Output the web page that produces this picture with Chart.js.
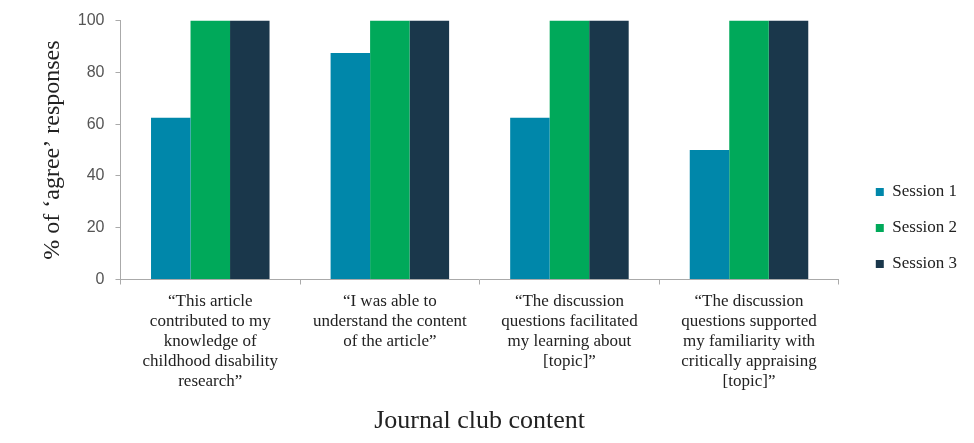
<!DOCTYPE html>
<html>
<head>
<meta charset="utf-8">
<script src="https://cdn.jsdelivr.net/npm/chart.js@4"></script>
<style>
  html, body { margin: 0; padding: 0; background: #fff; }
  #wrap { width: 974px; height: 443px; }
</style>
</head>
<body>
<div id="wrap"><canvas id="agreeChart"></canvas></div>
<script>
// survey statements (x categories)
const statements = [
    ['\u201cThis article', 'contributed to my', 'knowledge of', 'childhood disability', 'research\u201d'],
    ['\u201cI was able to', 'understand the content', 'of the article\u201d'],
    ['\u201cThe discussion', 'questions facilitated', 'my learning about', '[topic]\u201d'],
    ['\u201cThe discussion', 'questions supported', 'my familiarity with', 'critically appraising', '[topic]\u201d']
];
const sessionNames = ['Session 1', 'Session 2', 'Session 3'];
const session1 = [62.5, 87.5, 62.5, 50];
const session2 = [100, 100, 100, 100];
const session3 = [100, 100, 100, 100];
const sessionColors = ['#0087aa', '#00a95a', '#1a374b'];

const serif = '"Liberation Serif", "DejaVu Serif", serif';
const sans = '"Liberation Sans", Arial, sans-serif';

const ctx = document.getElementById('agreeChart').getContext('2d');
new Chart(ctx, {
    type: 'bar',
    data: {
        labels: statements,
        datasets: [session1, session2, session3].map((vals, i) => ({
            label: sessionNames[i],
            data: vals,
            backgroundColor: sessionColors[i],
            borderWidth: 0,
            barPercentage: 1,
            categoryPercentage: 0.66
        }))
    },
    options: {
        responsive: true,
        maintainAspectRatio: false,
        animation: false,
        layout: { padding: { top: 19, left: 38, right: 7, bottom: 6 } },
        plugins: {
            tooltip: { enabled: false },
            legend: {
                position: 'right',
                align: 'center',
                labels: {
                    boxWidth: 8,
                    boxHeight: 8,
                    padding: 19,
                    color: '#222',
                    font: { family: serif, size: 17 }
                }
            }
        },
        scales: {
            x: {
                grid: { drawOnChartArea: false, tickLength: 5, color: '#aaa' },
                border: { color: '#aaa' },
                ticks: {
                    maxRotation: 0,
                    autoSkip: false,
                    color: '#222',
                    font: { family: serif, size: 17, lineHeight: 1.18 },
                    padding: 7
                },
                title: {
                    display: true,
                    text: 'Journal club content',
                    color: '#222',
                    font: { family: serif, size: 26 },
                    padding: { top: 7, bottom: 0 }
                }
            },
            y: {
                min: 0,
                max: 100,
                ticks: {
                    stepSize: 20,
                    color: '#555',
                    font: { family: sans, size: 16 },
                    padding: 11
                },
                grid: { drawOnChartArea: false, tickLength: 5, color: '#aaa' },
                border: { color: '#aaa' },
                title: {
                    display: true,
                    text: '% of \u2018agree\u2019 responses',
                    color: '#222',
                    font: { family: serif, size: 24 },
                    padding: 0
                }
            },
            // empty right-hand axis, only keeps a gap before the legend
            gap: {
                type: 'linear',
                position: 'right',
                display: true,
                grid: { display: false },
                border: { display: false },
                ticks: { display: false },
                afterFit: scale => { scale.width = 18; }
            }
        }
    }
});
</script>
</body>
</html>
